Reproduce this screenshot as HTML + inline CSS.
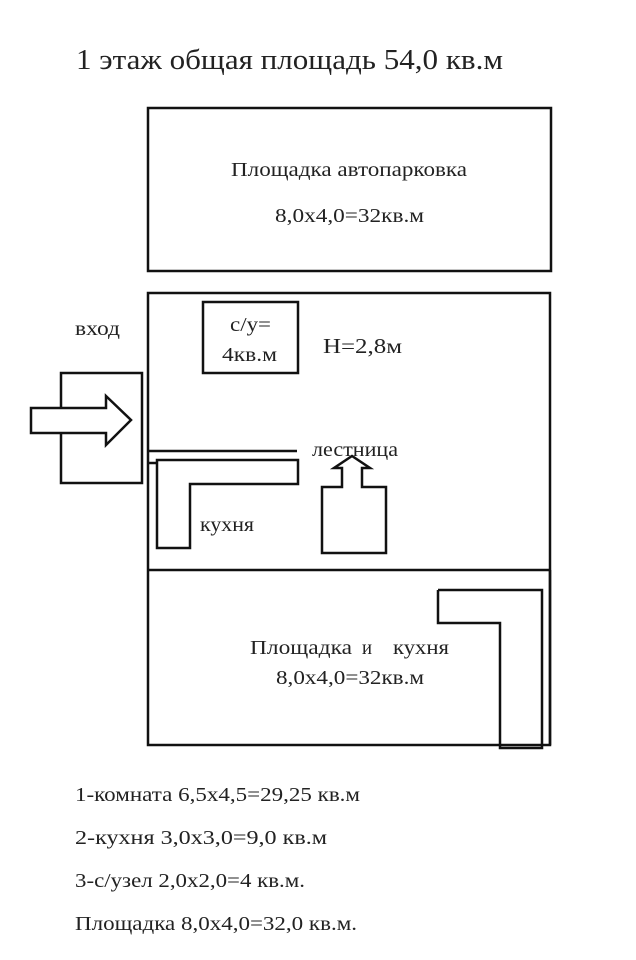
<!DOCTYPE html>
<html><head><meta charset="utf-8"><style>
html,body{margin:0;padding:0;background:#fff;}
svg{display:block;}
text{font-family:"Liberation Serif","Noto Serif CJK SC",serif;fill:#222;}
</style></head><body>
<svg width="636" height="960" viewBox="0 0 636 960" xmlns="http://www.w3.org/2000/svg">
<g fill="none" stroke="#111" stroke-width="2.5">
<rect x="148" y="108" width="403" height="163"/>
<rect x="148" y="293" width="402" height="452"/>
<line x1="148" y1="570" x2="550" y2="570"/>
<rect x="203" y="302" width="95" height="71"/>
<rect x="61" y="373" width="81" height="110"/>
<polygon points="31,408 106,408 106,396 131,420 106,445 106,433 31,433" fill="#fff"/>
<line x1="148" y1="451" x2="297" y2="451"/>
<line x1="148" y1="463" x2="157" y2="463"/>
<polygon points="157,460 298,460 298,484 190,484 190,548 157,548"/>
<polygon points="322,553 386,553 386,487 362,487 362,468 370,468 352,456 334,468 342,468 342,487 322,487"/>
<polyline points="438,590 542,590 542,748 500,748 500,623 438,623 438,590"/>
<line x1="550" y1="570" x2="550" y2="745"/>
</g>
<text x="76" y="69" font-size="28" textLength="427" lengthAdjust="spacingAndGlyphs">1 этаж  общая площадь 54,0 кв.м</text>
<text x="231" y="176" font-size="20" textLength="236" lengthAdjust="spacingAndGlyphs">Площадка автопарковка</text>
<text x="275" y="222" font-size="20" textLength="149" lengthAdjust="spacingAndGlyphs">8,0х4,0=32кв.м</text>
<text x="75" y="335" font-size="20" textLength="45" lengthAdjust="spacingAndGlyphs">вход</text>
<text x="230" y="331" font-size="20" textLength="41" lengthAdjust="spacingAndGlyphs">с/у=</text>
<text x="222" y="361" font-size="20" textLength="55" lengthAdjust="spacingAndGlyphs">4кв.м</text>
<text x="323" y="353" font-size="21" textLength="79" lengthAdjust="spacingAndGlyphs">Н=2,8м</text>
<text x="312" y="456" font-size="20" textLength="86" lengthAdjust="spacingAndGlyphs">лестница</text>
<text x="200" y="531" font-size="20" textLength="54" lengthAdjust="spacingAndGlyphs">кухня</text>
<text x="250" y="654" font-size="20" textLength="102" lengthAdjust="spacingAndGlyphs">Площадка</text>
<text x="362" y="654" font-size="20" textLength="10" lengthAdjust="spacingAndGlyphs">и</text>
<text x="393" y="654" font-size="20" textLength="56" lengthAdjust="spacingAndGlyphs">кухня</text>
<text x="276" y="684" font-size="20" textLength="148" lengthAdjust="spacingAndGlyphs">8,0х4,0=32кв.м</text>
<text x="75" y="801" font-size="20" textLength="285" lengthAdjust="spacingAndGlyphs">1-комната 6,5х4,5=29,25 кв.м</text>
<text x="75" y="844" font-size="20" textLength="252" lengthAdjust="spacingAndGlyphs">2-кухня 3,0х3,0=9,0 кв.м</text>
<text x="75" y="887" font-size="20" textLength="230" lengthAdjust="spacingAndGlyphs">3-с/узел 2,0х2,0=4 кв.м.</text>
<text x="75" y="930" font-size="20" textLength="282" lengthAdjust="spacingAndGlyphs">Площадка 8,0х4,0=32,0 кв.м.</text>
</svg>
</body></html>
